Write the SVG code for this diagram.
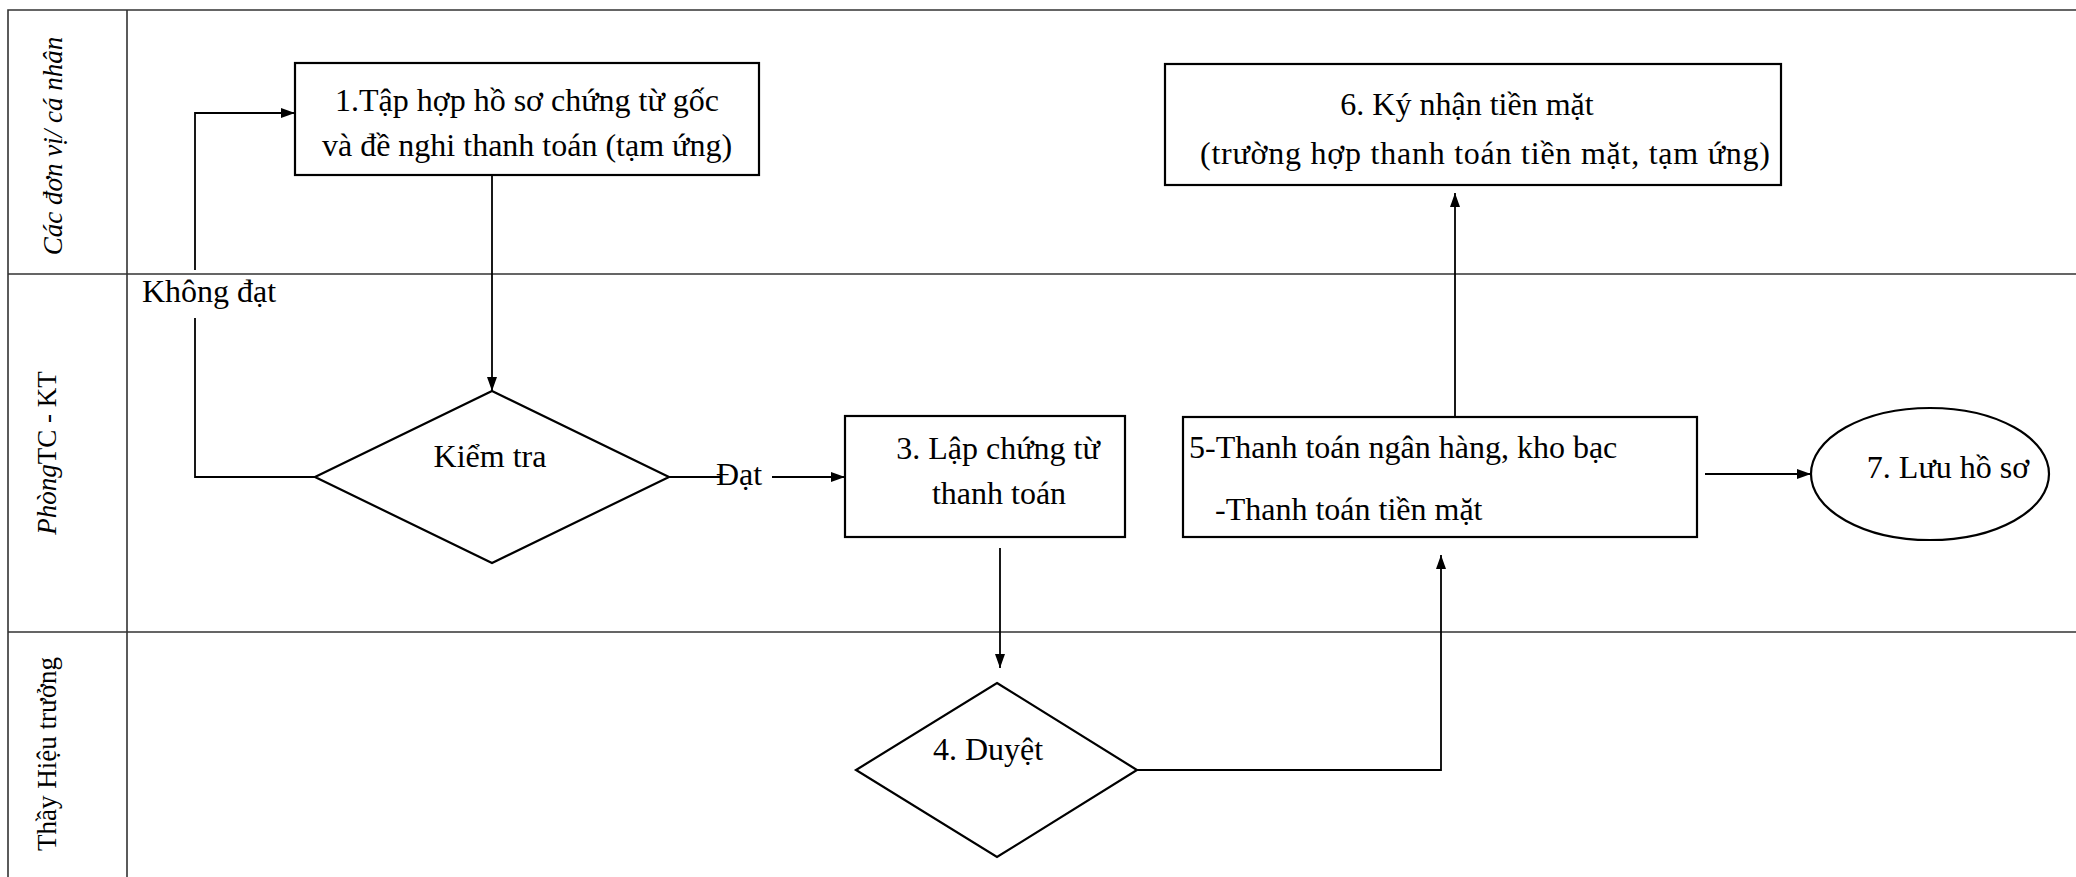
<svg xmlns="http://www.w3.org/2000/svg" width="2076" height="877" viewBox="0 0 2076 877">
<style>
  .lane { stroke: #333; stroke-width: 1.6; fill: none; }
  .shape { fill: #fff; stroke: #000; stroke-width: 2.2; }
  .conn { fill: none; stroke: #000; stroke-width: 1.8; }
  .t { font-family: "Liberation Serif", "Times New Roman", serif; font-size: 32px; fill: #000; }
  .lbl { font-family: "Liberation Serif", "Times New Roman", serif; font-size: 27px; fill: #000; }
  .it { font-style: italic; }
</style>
<defs>
  <marker id="arr" viewBox="0 0 14 10" refX="14" refY="5" markerWidth="14" markerHeight="10" markerUnits="userSpaceOnUse" orient="auto">
    <path d="M0,0 L14,5 L0,10 z" fill="#000"/>
  </marker>
</defs>
<rect width="2076" height="877" fill="#fff"/>

<g id="lanes">
  <path class="lane" d="M8 877 V10 H2076 M127 10 V877 M8 274 H2076 M8 632 H2076"/>
  <text class="lbl it" transform="translate(62,146) rotate(-90)" text-anchor="middle">Các đơn vị/ cá nhân</text>
  <text class="lbl" transform="translate(56,453) rotate(-90)" text-anchor="middle"><tspan class="it">Phòng</tspan>TC - KT</text>
  <text class="lbl" transform="translate(56,754) rotate(-90)" text-anchor="middle">Thầy Hiệu trưởng</text>
</g>

<g id="connectors">
  <path class="conn" d="M492 175 V391" marker-end="url(#arr)"/>
  <path class="conn" d="M315 477 H195 V318 M195 270 V113 H295" marker-end="url(#arr)"/>
  <path class="conn" d="M669 477 H722 M772 477 H845" marker-end="url(#arr)"/>
  <path class="conn" d="M1000 548 V668" marker-end="url(#arr)"/>
  <path class="conn" d="M1137 770 H1441 V555" marker-end="url(#arr)"/>
  <path class="conn" d="M1455 417 V193" marker-end="url(#arr)"/>
  <path class="conn" d="M1705 474 H1811" marker-end="url(#arr)"/>
  <text class="t" x="142" y="302">Không đạt</text>
  <text class="t" x="716" y="485">Đạt</text>
</g>

<g id="n1">
  <rect class="shape" x="295" y="63" width="464" height="112"/>
  <text class="t" x="527" y="111" text-anchor="middle">1.Tập hợp hồ sơ chứng từ gốc</text>
  <text class="t" x="527" y="156" text-anchor="middle">và đề nghi thanh toán (tạm ứng)</text>
</g>

<g id="n2">
  <polygon class="shape" points="492,391 669,477 492,563 315,477"/>
  <text class="t" x="490" y="467" text-anchor="middle" font-size="29">Kiểm tra</text>
</g>

<g id="n3">
  <rect class="shape" x="845" y="416" width="280" height="121"/>
  <text class="t" x="998" y="459" text-anchor="middle">3. Lập chứng từ</text>
  <text class="t" x="999" y="504" text-anchor="middle">thanh toán</text>
</g>

<g id="n4">
  <polygon class="shape" points="997,683 1137,770 997,857 856,770"/>
  <text class="t" x="988" y="760" text-anchor="middle">4. Duyệt</text>
</g>

<g id="n5">
  <rect class="shape" x="1183" y="417" width="514" height="120"/>
  <text class="t" x="1189" y="458" font-size="33">5-Thanh toán ngân hàng, kho bạc</text>
  <text class="t" x="1215" y="520" font-size="33">-Thanh toán tiền mặt</text>
</g>

<g id="n6">
  <rect class="shape" x="1165" y="64" width="616" height="121"/>
  <text class="t" x="1467" y="115" text-anchor="middle">6. Ký nhận tiền mặt</text>
  <text class="t" x="1200" y="164" font-size="33" textLength="570">(trường hợp thanh toán tiền mặt, tạm ứng)</text>
</g>

<g id="n7">
  <ellipse class="shape" cx="1930" cy="474" rx="119" ry="66"/>
  <text class="t" x="1948" y="478" text-anchor="middle" font-size="25">7. Lưu hồ sơ</text>
</g>
</svg>
